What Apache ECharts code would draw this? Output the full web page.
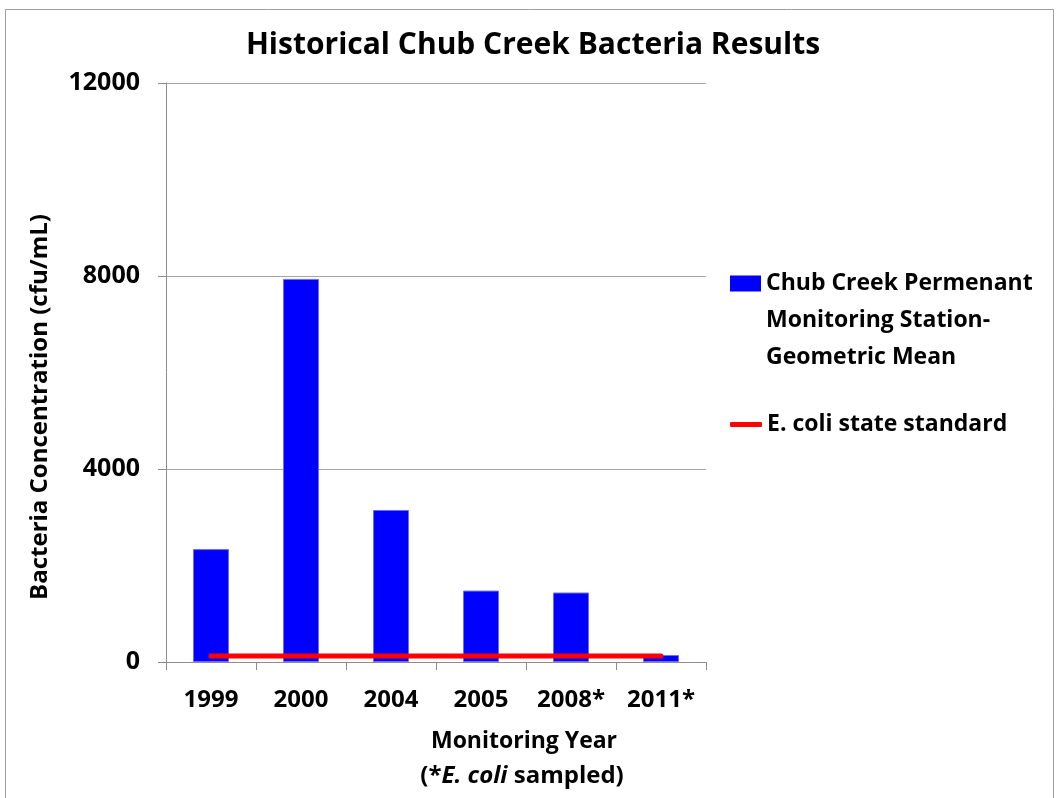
<!DOCTYPE html>
<html>
<head>
<meta charset="utf-8">
<script src="https://cdn.jsdelivr.net/npm/echarts@6/dist/echarts.min.js"></script>
<style>
html,body{margin:0;padding:0;background:#fff;}
#chart{width:1059px;height:798px;}
</style>
</head>
<body>
<div id="chart"></div>
<script>
const categories = ["1999", "2000", "2004", "2005", "2008*", "2011*"];
const geoMean = [2340, 7940, 3150, 1480, 1440, 145];
const stateStandard = [126, 126, 126, 126, 126, 126];
const yTicks = [0, 4000, 8000, 12000];
const barName = 'Chub Creek Permenant\nMonitoring Station-\nGeometric Mean';
const lineName = 'E. coli state standard';

const FONT = '"Open Sans", sans-serif';
const chart = echarts.init(document.getElementById('chart'));
chart.setOption({
  animation: false,
  backgroundColor: '#fff',
  title: {
    text: 'Historical Chub Creek Bacteria Results',
    left: 528, top: 25, textAlign: 'center',
    textStyle: {fontFamily: FONT, fontSize: 30, fontWeight: 'bold', color: '#000'}
  },
  graphic: [
    {type: 'rect', shape: {x: 5.5, y: 9.5, width: 1048, height: 800},
     style: {fill: 'none', stroke: '#a0a0a0', lineWidth: 1}, silent: true},
    {type: 'text', x: 40, y: 407, rotation: Math.PI / 2,
     style: {text: 'Bacteria Concentration (cfu/mL)', fontFamily: FONT, fontSize: 24,
             fontWeight: 'bold', fill: '#000', align: 'center', verticalAlign: 'middle'}},
    {type: 'text', x: 524, y: 741,
     style: {text: 'Monitoring Year', fontFamily: FONT, fontSize: 23,
             fontWeight: 'bold', fill: '#000', align: 'center', verticalAlign: 'middle'}},
    {type: 'text', x: 522, y: 776,
     style: {text: '(*{i|E. coli} sampled)', fontFamily: FONT, fontSize: 24,
             fontWeight: 'bold', fill: '#000', align: 'center', verticalAlign: 'middle',
             rich: {i: {fontFamily: FONT, fontSize: 24, fontWeight: 'bold', fontStyle: 'italic', fill: '#000'}}}}
  ],
  grid: {left: 166, right: 353, top: 83, bottom: 136},
  legend: [
    {
      orient: 'vertical', left: 725, top: 260,
      itemWidth: 31, itemHeight: 90,
      itemStyle: {borderWidth: 0},
      textStyle: {fontFamily: FONT, fontSize: 23, fontWeight: 'bold', color: '#000', lineHeight: 37},
      data: [{name: barName, icon: 'path://M0,0H31V16H0Z M0,90 L31,90'}]
    },
    {
      orient: 'vertical', left: 725, top: 401,
      itemWidth: 32, itemHeight: 5,
      textStyle: {fontFamily: FONT, fontSize: 23, fontWeight: 'bold', color: '#000', lineHeight: 37},
      data: [{name: lineName, icon: 'roundRect'}]
    }
  ],
  xAxis: {
    type: 'category', data: categories, boundaryGap: true,
    axisLine: {lineStyle: {color: '#8c8c8c', width: 1}},
    axisTick: {show: true, length: 8, alignWithLabel: false, interval: 0, lineStyle: {color: '#8c8c8c'}},
    axisLabel: {fontFamily: FONT, fontSize: 24, fontWeight: 'bold', color: '#000', margin: 26,
                interval: 0, hideOverlap: false}
  },
  yAxis: {
    type: 'value', min: 0, max: 12000, interval: 4000,
    axisLine: {show: true, lineStyle: {color: '#8c8c8c', width: 1}},
    axisTick: {show: true, length: 8, lineStyle: {color: '#8c8c8c'}},
    splitLine: {show: true, lineStyle: {color: '#a6a6a6', width: 1}},
    axisLabel: {fontFamily: FONT, fontSize: 25, fontWeight: 'bold', color: '#000', margin: 26,
      formatter: v => yTicks.includes(v) ? String(v) : ''}
  },
  series: [
    {
      name: barName,
      type: 'bar', data: geoMean, barWidth: '40%',
      itemStyle: {color: '#0000ff', borderColor: '#6b6bff', borderWidth: 1}
    },
    {
      name: lineName,
      type: 'line', data: stateStandard, symbol: 'none',
      lineStyle: {color: '#ff0000', width: 5, cap: 'round'},
      itemStyle: {color: '#ff0000'}
    }
  ]
});
</script>
</body>
</html>
